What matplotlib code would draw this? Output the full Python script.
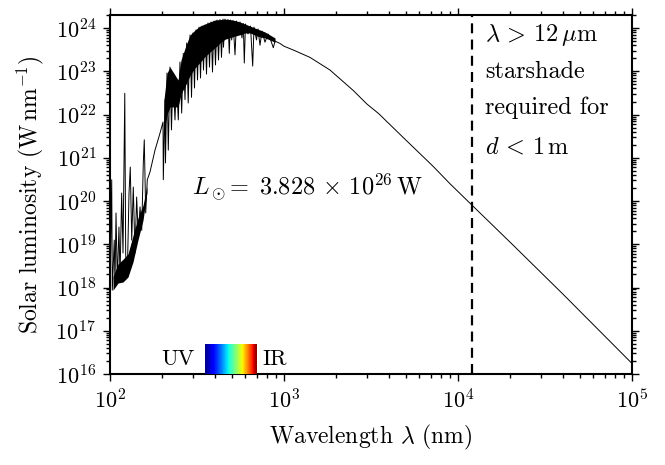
import numpy as np
import matplotlib
matplotlib.use("Agg")
import matplotlib.pyplot as plt

plt.rcParams['font.family'] = 'serif'
plt.rcParams['font.serif'] = ['cmr10', 'DejaVu Serif']
plt.rcParams['mathtext.fontset'] = 'cm'
plt.rcParams['axes.unicode_minus'] = False
plt.rcParams['axes.formatter.use_mathtext'] = True

# --- data (wavelength in nm, luminosity in W/nm) ---
wavelength_nm = [
    100.0, 102.3, 103.1, 105.8, 106.8, 108.3, 110.2, 112.6, 114.2, 116.7,
    118.8, 121.6, 123.1, 125.7, 128.6, 130.8, 133.3, 136.1, 139.2, 142.3,
    145.4, 148.8, 152.2, 155.4, 157.4, 160.4, 163.8, 169.8, 181.4, 193.8,
    201.7, 202.5, 207.1, 208.4, 212.6, 216.3, 221.2, 225.6, 230.1, 236.3,
    241.1, 246.9, 252.5, 258.2, 263.8, 269.8, 275.9, 281.5, 288.4, 294.1,
    299.9, 305.9, 312.1, 318.4, 324.8, 331.3, 338.0, 344.6, 351.6, 358.6,
    365.7, 373.1, 380.6, 388.2, 396.0, 403.9, 412.0, 420.4, 428.7, 437.3,
    446.0, 449.0, 458.0, 467.2, 476.6, 484.8, 492.6, 500.5, 509.2, 522.9,
    533.3, 544.0, 558.6, 573.6, 583.6, 591.3, 600.7, 621.0, 641.9, 660.8,
    672.3, 695.0, 708.9, 727.9, 747.4, 777.6, 809.1, 830.8, 868.1, 887.9,
    948.4, 1000.0, 1132.0, 1409.0, 1837.0, 2500.0, 3000.0, 3500.0, 5000.0,
    7178.0, 9000.0, 12000.0, 20000.0, 40000.0, 100000.0,
]
luminosity_W_per_nm = [
    7.5e17, 3.1e20, 8.7e17, 1.25e19, 1.14e18, 5.3e19, 1.34e18, 2.5e19, 1.75e18, 1.53e20,
    6.3e18, 3.1e22, 5.6e18, 1.75e18, 1.5e20, 6.1e20, 1.25e19, 2.1e20, 6.3e18, 1.24e20,
    1.47e19, 7.3e19, 2.1e19, 7.6e20, 2.6e21, 5.3e19, 3.1e20, 4.7e20, 1.5e21, 3.7e21,
    6.7e21, 3.1e20, 2.2e22, 7.6e20, 9.1e22, 1.5e21, 1.25e23, 4.4e21, 8.2e22, 7.5e21,
    6.3e22, 7.5e21, 1.64e23, 1.08e22, 2.6e23, 2.2e22, 4.5e23, 1.85e22, 6.9e23, 2.5e22,
    7.7e23, 4.1e22, 9.0e23, 6.3e22, 1.05e24, 7.0e22, 1.11e24, 1.07e23, 1.17e24, 8.6e22,
    1.31e24, 1.25e23, 1.38e24, 9.6e22, 1.45e24, 1.4e23, 1.53e24, 1.82e23, 1.57e24, 2.1e23,
    1.61e24, 3.6e23, 1.61e24, 5.9e23, 1.57e24, 2.6e23, 1.53e24, 5.3e23, 1.49e24, 2.4e23,
    1.45e24, 6.9e23, 1.38e24, 5.9e23, 1.27e24, 1.55e23, 1.24e24, 7.3e23, 1.11e24, 1.32e23,
    1.05e24, 5.3e23, 9.5e23, 4.0e23, 8.5e23, 4.7e23, 7.3e23, 5.9e23, 3.5e23, 5.0e23,
    4.4e23, 3.8e23, 3.1e23, 2.1e23, 1.07e23, 3.6e22, 1.74e22, 1.05e22, 2.6e21,
    6.4e20, 2.5e20, 8.1e19, 1.1e19, 7.1e17, 1.75e16,
]

# dense (unresolved) line forest: upper and lower edge of the black band
uv_band_nm = [104.1, 111.2, 118.8, 126.9, 135.6, 144.8, 154.8, 163.2]
uv_band_upper = [1.8e18, 3.5e18, 4.5e18, 6.0e18, 1.6e19, 4.0e19, 8.0e19, 2.2e20]
uv_band_lower = [8.7e17, 1.27e18, 1.34e18, 1.75e18, 3.9e18, 1.25e19, 3.6e19, 1.6e20]

vis_band_nm = [204.3, 212.6, 221.2, 236.3, 246.0, 255.9, 273.4, 288.4, 308.0, 329.1,
               351.6, 375.6, 401.2, 428.7, 458.0, 489.4, 522.9, 558.6, 596.9, 637.6,
               681.2, 727.9, 777.6, 830.8, 887.9]
vis_band_upper = [2.2e22, 9.1e22, 1.25e23, 8.2e22, 6.3e22, 1.82e23, 4.0e23, 6.9e23, 9.0e23, 1.11e24,
                  1.24e24, 1.38e24, 1.53e24, 1.57e24, 1.61e24, 1.57e24, 1.49e24, 1.38e24, 1.24e24, 1.11e24,
                  1.0e24, 9.0e23, 8.1e23, 6.9e23, 5.9e23]
vis_band_lower = [4.0e21, 1.0e22, 1.5e22, 1.5e22, 1.5e22, 3.0e22, 5.0e22, 8.0e22, 1.2e23, 1.6e23,
                  2.2e23, 2.8e23, 3.5e23, 4.5e23, 5.5e23, 6.0e23, 6.5e23, 7.0e23, 7.7e23, 7.7e23,
                  6.9e23, 6.2e23, 5.9e23, 5.3e23, 4.7e23]

visible_band_nm = [350.0, 700.0]
visible_band_lum = [1e16, 5e16]
cutoff_nm = 12000.0
x_limits = [1e2, 1e5]
y_limits = [1e16, 2e24]

fig = plt.figure(figsize=(6.65, 4.65), dpi=100)
ax = fig.add_axes([0.1654, 0.1957, 0.785, 0.772])

ax.fill_between(uv_band_nm, uv_band_lower, uv_band_upper, color='black', lw=0)
ax.fill_between(vis_band_nm, vis_band_lower, vis_band_upper, color='black', lw=0)
ax.plot(wavelength_nm, luminosity_W_per_nm, color='black', lw=0.7)
ax.set_xscale('log')
ax.set_yscale('log')
ax.set_xlim(*x_limits)
ax.set_ylim(*y_limits)

# visible colour strip
edges = np.geomspace(visible_band_nm[0], visible_band_nm[1], 200)
centers = np.sqrt(edges[:-1] * edges[1:])
ax.pcolormesh(edges, visible_band_lum, centers[np.newaxis, :], cmap='jet',
              shading='flat', zorder=3)
ax.text(0.130, 0.042, 'UV', transform=ax.transAxes, fontsize=16,
        ha='center', va='center')
ax.text(0.316, 0.042, 'IR', transform=ax.transAxes, fontsize=16,
        ha='center', va='center')

ax.axvline(cutoff_nm, color='black', lw=1.6, dashes=(4.5, 2.8))

ax.text(0.158, 0.52, r'$L_\odot\!=\;3.828\,\times\,10^{26}\,\mathrm{W}$',
        transform=ax.transAxes, fontsize=17.5, ha='left', va='center')
txt_kw = dict(transform=ax.transAxes, fontsize=17.5, ha='left', va='center')
ax.text(0.718, 0.944, r'$\lambda\,>\,12\,\mu\mathrm{m}$', **txt_kw)
ax.text(0.718, 0.841, 'starshade', **txt_kw)
ax.text(0.718, 0.741, 'required for', **txt_kw)
ax.text(0.718, 0.630, r'$d\,<\,1\,\mathrm{m}$', **txt_kw)

ax.set_xlabel(r'Wavelength $\lambda$ (nm)', fontsize=17, labelpad=8)
ax.set_ylabel(r'Solar luminosity $(\mathrm{W\,nm}^{-1})$', fontsize=17, labelpad=7)

for s in ax.spines.values():
    s.set_linewidth(1.5)
ax.tick_params(which='both', direction='out', top=True, right=True,
               labelsize=16, width=1.0)
ax.tick_params(which='major', length=5, pad=5)
ax.tick_params(which='minor', length=3)
ax.yaxis.set_major_locator(matplotlib.ticker.LogLocator(base=10, numticks=20))
ax.yaxis.set_minor_locator(matplotlib.ticker.LogLocator(base=10, subs=np.arange(2, 10), numticks=20))
ax.yaxis.set_minor_formatter(matplotlib.ticker.NullFormatter())

fig.savefig('out.png', dpi=100)
